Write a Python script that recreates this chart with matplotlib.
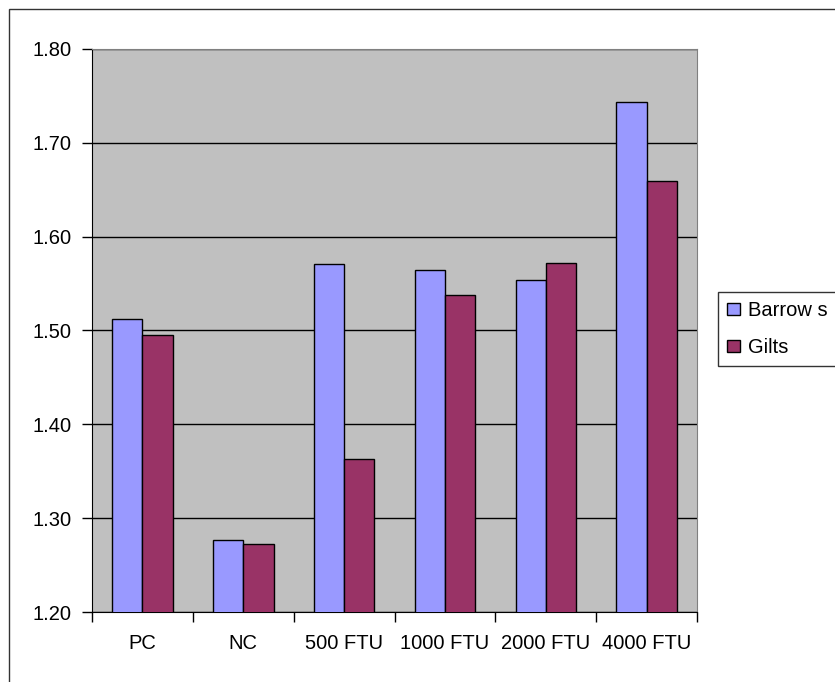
import numpy as np
import matplotlib
matplotlib.use("Agg")
import matplotlib.pyplot as plt
from matplotlib.patches import Rectangle

# --------------------------------------------------------------------------- #
#  Datos
# --------------------------------------------------------------------------- #
CATEGORIES = ["PC", "NC", "500 FTU", "1000 FTU", "2000 FTU", "4000 FTU"]
BARROWS = [1.512, 1.277, 1.571, 1.564, 1.554, 1.744]
GILTS = [1.495, 1.272, 1.363, 1.538, 1.572, 1.659]
SERIES_NAMES = ["Barrow s", "Gilts"]
Y_TICKS = [1.20, 1.30, 1.40, 1.50, 1.60, 1.70, 1.80]

plt.rcParams["font.family"] = ["Liberation Sans", "DejaVu Sans"]
FS = 14.5

fig = plt.figure(figsize=(8.35, 6.82), dpi=100)
ax = fig.add_axes([92 / 835, 1 - 612 / 682, 605 / 835, 563 / 682])
ax.set_facecolor("#C0C0C0")

x = np.arange(len(CATEGORIES))
w = 0.3
ax.bar(x - w / 2, BARROWS, w, color="#9999FF", edgecolor="black",
       linewidth=1, label=SERIES_NAMES[0], zorder=3)
ax.bar(x + w / 2, GILTS, w, color="#993366", edgecolor="black",
       linewidth=1, label=SERIES_NAMES[1], zorder=3)

ax.set_xlim(-0.5, len(CATEGORIES) - 0.5)
ax.set_ylim(Y_TICKS[0], Y_TICKS[-1])
ax.set_yticks(Y_TICKS)
ax.set_yticklabels([f"{v:.2f}" for v in Y_TICKS], fontsize=FS)
ax.yaxis.grid(True, color="black", linewidth=1, zorder=1)
ax.set_axisbelow(True)

# ticks en los limites de categoria, etiquetas centradas
ax.set_xticks(np.arange(-0.5, len(CATEGORIES)), minor=False)
ax.set_xticklabels([])
ax.set_xticks(x, minor=True)
ax.set_xticklabels(CATEGORIES, minor=True, fontsize=FS)
ax.tick_params(axis="x", which="minor", length=0, pad=16)
ax.tick_params(axis="x", which="major", length=7, width=1, direction="out")
ax.tick_params(axis="y", length=7, width=1, direction="out", pad=8)

ax.spines["left"].set_color("black")
ax.spines["bottom"].set_color("black")
ax.spines["top"].set_color("#808080")
ax.spines["right"].set_color("#808080")

leg = fig.legend(loc="upper left", bbox_to_anchor=(718 / 835, 1 - 292 / 682),
                 fontsize=FS, frameon=True, fancybox=False, edgecolor="black",
                 handlelength=0.65, handleheight=0.6, handletextpad=0.4,
                 borderpad=0.45, labelspacing=0.9, borderaxespad=0)
leg.get_frame().set_linewidth(1)

# marco exterior del grafico (recortado a la derecha y abajo)
fig.patches.append(Rectangle((9 / 835, -0.1), 1.2, 1.1 - 9 / 682,
                             transform=fig.transFigure, fill=False,
                             edgecolor="#333333", linewidth=1))

fig.savefig("out.png", dpi=100)
